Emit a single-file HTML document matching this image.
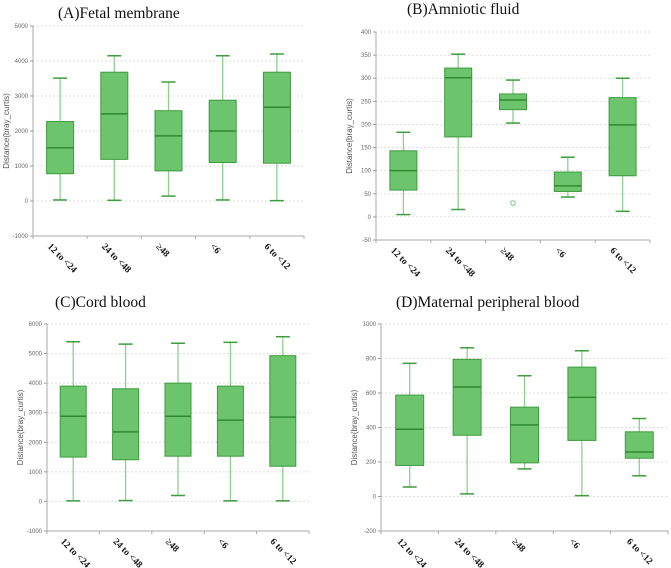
<!DOCTYPE html>
<html><head><meta charset="utf-8"><style>
body{margin:0;background:#fff}
svg{display:block}
</style></head><body>
<svg id="c" width="671" height="568" xmlns="http://www.w3.org/2000/svg"></svg>
<script>
const categories=["12 to <24","24 to <48","≥48","<6","6 to <12"];
const aMin=[30,20,140,30,10],aQ1=[780,1190,860,1100,1080],aMed=[1520,2490,1860,2000,2680],aQ3=[2270,3680,2580,2880,3680],aMax=[3510,4150,3400,4150,4200];
const bMin=[5,16,203,43,12],bQ1=[58,173,232,55,89],bMed=[100,301,253,67,199],bQ3=[143,322,266,97,258],bMax=[183,352,296,129,300];
const bOutliers=[[],[],[30],[],[]];
const cMin=[20,30,200,20,20],cQ1=[1500,1410,1530,1530,1190],cMed=[2880,2350,2880,2750,2850],cQ3=[3900,3810,4000,3900,4930],cMax=[5400,5320,5350,5380,5570];
const dMin=[55,15,160,5,120],dQ1=[180,355,195,325,222],dMed=[390,635,415,575,258],dQ3=[588,795,518,750,375],dMax=[772,862,700,845,452];
const aTicks=[-1000,0,1000,2000,3000,4000,5000];
const bTicks=[-50,0,50,100,150,200,250,300,350,400];
const cTicks=[-1000,0,1000,2000,3000,4000,5000,6000];
const dTicks=[-200,0,200,400,600,800,1000];

const NS="http://www.w3.org/2000/svg";
const svg=document.getElementById('c');
function el(t,a,p){const e=document.createElementNS(NS,t);for(const k in a)e.setAttribute(k,a[k]);(p||svg).appendChild(e);return e;}

const panels=[
 {id:'a',title:'(A)Fetal membrane',tx:58,ty:18,ax:33,top:26,bot:236,xEnd:304,yMin:-1000,yMax:5000,ticks:aTicks,mn:aMin,q1:aQ1,md:aMed,q3:aQ3,mx:aMax,out:null,bw:27},
 {id:'b',title:'(B)Amniotic fluid',tx:407,ty:14,ax:376,top:32,bot:240,xEnd:650,yMin:-50,yMax:400,ticks:bTicks,mn:bMin,q1:bQ1,md:bMed,q3:bQ3,mx:bMax,out:bOutliers,bw:27},
 {id:'c',title:'(C)Cord blood',tx:55,ty:307,ax:47,top:324,bot:531,xEnd:309,yMin:-1000,yMax:6000,ticks:cTicks,mn:cMin,q1:cQ1,md:cMed,q3:cQ3,mx:cMax,out:null,bw:26},
 {id:'d',title:'(D)Maternal peripheral blood',tx:396,ty:307,ax:381,top:324,bot:531,xEnd:668,yMin:-200,yMax:1000,ticks:dTicks,mn:dMin,q1:dQ1,md:dMed,q3:dQ3,mx:dMax,out:null,bw:28}
];

panels.forEach(p=>{
 const g=el('g',{});
 
 
 const y=v=>p.bot-(v-p.yMin)/(p.yMax-p.yMin)*(p.bot-p.top);
 const cw=(p.xEnd-p.ax)/categories.length;
 const x=i=>p.ax+cw*(i+0.5);
 const t=el('text',{x:p.tx,y:p.ty,'font-family':'Liberation Serif, serif','font-size':15.5,fill:'#111'},g);
 t.textContent=p.title;
 
 
 p.ticks.forEach(v=>{
  const gl=el('line',{x1:p.ax,x2:p.xEnd,y1:y(v),y2:y(v),stroke:'#ddd','stroke-width':1,'stroke-dasharray':'2,2'},g);
  
  
  el('line',{x1:p.ax-3,x2:p.ax,y1:y(v),y2:y(v),stroke:'#999'},g);
  const tl=el('text',{x:p.ax-5,y:y(v)+2,'font-family':'Liberation Sans, sans-serif','font-size':6,fill:'#666','text-anchor':'end'},g);
  tl.textContent=v;
  
  
 });
 const ya=el('line',{x1:p.ax,x2:p.ax,y1:p.top,y2:p.bot,stroke:'#aaa'},g);
 
 
 const xa=el('line',{x1:p.ax,x2:p.xEnd,y1:p.bot,y2:p.bot,stroke:'#aaa'},g);
 
 
 const cy=(p.top+p.bot)/2;
 const yt=el('text',{x:0,y:0,'font-family':'Liberation Sans, sans-serif','font-size':8,fill:'#555','text-anchor':'middle',transform:`translate(${p.ax-24},${cy}) rotate(-90)`},g);
 yt.textContent='Distance(bray_curtis)';
 
 
 for(let k=0;k<=categories.length;k++){el('line',{x1:p.ax+cw*k,x2:p.ax+cw*k,y1:p.bot,y2:p.bot+3,stroke:'#aaa'},g);}
 categories.forEach((c,i)=>{
  const cx=x(i),hw=p.bw/2;
  const bx=el('g',{},g);
  
  
  el('line',{x1:cx,x2:cx,y1:y(p.mx[i]),y2:y(p.q3[i]),stroke:'#8fd08f','stroke-width':1.3},bx);
  el('line',{x1:cx,x2:cx,y1:y(p.q1[i]),y2:y(p.mn[i]),stroke:'#8fd08f','stroke-width':1.3},bx);
  el('line',{x1:cx-7,x2:cx+7,y1:y(p.mx[i]),y2:y(p.mx[i]),stroke:'#3d9c3d','stroke-width':1.5},bx);
  el('line',{x1:cx-7,x2:cx+7,y1:y(p.mn[i]),y2:y(p.mn[i]),stroke:'#3d9c3d','stroke-width':1.5},bx);
  el('rect',{x:cx-hw,y:y(p.q3[i]),width:p.bw,height:y(p.q1[i])-y(p.q3[i]),fill:'#6cc56c',stroke:'#3d9c3d','stroke-width':1},bx);
  el('line',{x1:cx-hw,x2:cx+hw,y1:y(p.md[i]),y2:y(p.md[i]),stroke:'#2f8a2f','stroke-width':1.5},bx);
  if(p.out) p.out[i].forEach(o=>{
   const oc=el('circle',{cx:cx,cy:y(o),r:2.3,fill:'none',stroke:'#7cc97c','stroke-width':1},bx);
   
   
  });
  const lx=cx-13,ly=p.bot+11;
  const lt=el('text',{x:lx,y:ly,'font-family':'Liberation Serif, serif','font-size':9.5,'font-weight':'bold',fill:'#111',transform:`rotate(45 ${lx} ${ly})`},g);
  lt.textContent=c;
  
  
 });
});
</script>
</body></html>
